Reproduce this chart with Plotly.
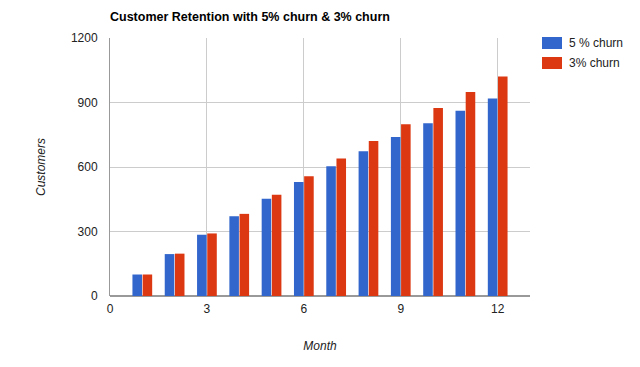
import plotly.graph_objects as go

months = [1, 2, 3, 4, 5, 6, 7, 8, 9, 10, 11, 12]
churn5 = [100, 195, 285, 371, 452, 530, 603, 673, 740, 803, 862, 919]
churn3 = [100, 197, 291, 382, 471, 557, 640, 721, 799, 875, 949, 1021]
x_ticks = [0, 3, 6, 9, 12]
y_ticks = [0, 300, 600, 900, 1200]
series_names = ["5 % churn", "3% churn"]
series_colors = ["#3366cc", "#dc3912"]

font = "Liberation Sans, Arial, sans-serif"
W, H = 640, 367
OFF = 8  # page body margin offset

fig = go.Figure()
for vals, name, col in zip([churn5, churn3], series_names, series_colors):
    fig.add_trace(go.Bar(x=months, y=vals, name=name,
                         marker=dict(color=col, line=dict(width=0))))

fig.update_layout(
    width=W, height=H,
    margin=dict(l=110 - OFF, r=W - 530 + OFF, t=38 - OFF, b=H - 296 + OFF),
    paper_bgcolor="white", plot_bgcolor="white",
    font=dict(family=font, size=12, color="#222"),
    barmode="group", bargap=0.37, bargroupgap=0.06,
    title=dict(text="<b>Customer Retention with 5% churn & 3% churn</b>",
               x=(110 - OFF) / W, xanchor="left", y=1 - (17 - OFF) / H, yanchor="middle",
               pad=dict(l=0, r=0, t=0, b=0),
               font=dict(family=font, size=12.5, color="#000")),
    showlegend=False,
)

# Legend drawn as swatches + labels (Google-chart style wide swatches)
for i, (name, col) in enumerate(zip(series_names, series_colors)):
    yc = 43 + i * 20
    fig.add_shape(type="rect", xref="paper", yref="paper",
                  x0=(542 - 110) / 420, x1=(562 - 110) / 420,
                  y0=1 - (yc + 6 - 38) / 258, y1=1 - (yc - 6 - 38) / 258,
                  fillcolor=col, line=dict(width=0))
    fig.add_annotation(text=name, xref="paper", yref="paper",
                       x=(567 - 110) / 420, y=1 - (yc - 38) / 258,
                       xanchor="left", yanchor="middle", showarrow=False,
                       font=dict(family=font, size=12, color="#222"))

fig.update_xaxes(range=[0, 13], tickvals=x_ticks, ticktext=[str(v) for v in x_ticks],
                 showgrid=True, gridcolor="#cccccc", gridwidth=1,
                 zeroline=False, showline=False, ticks="",
                 ticklabelstandoff=4,
                 tickfont=dict(size=12, color="#222"),
                 title=dict(text="<i>Month</i>", standoff=26,
                            font=dict(size=12, color="#222")))
fig.update_yaxes(range=[0, 1200], tickvals=y_ticks, ticktext=[str(v) for v in y_ticks],
                 showgrid=True, gridcolor="#cccccc", gridwidth=1,
                 zeroline=True, zerolinecolor="#999999", zerolinewidth=2,
                 showline=True, linecolor="#999999", linewidth=1,
                 ticks="", ticklabelstandoff=9,
                 tickfont=dict(size=12, color="#222"),
                 title=dict(text="<i>Customers</i>", standoff=22,
                            font=dict(size=12, color="#222")))

fig.write_html("out.html")
